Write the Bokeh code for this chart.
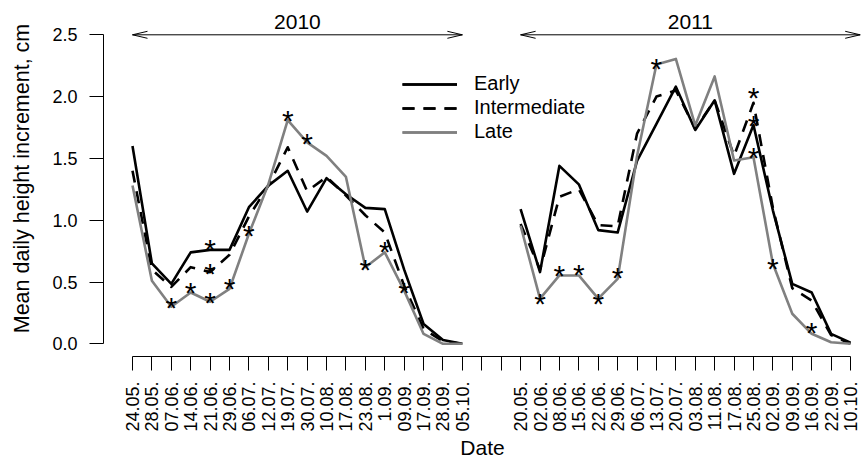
import numpy as np
from bokeh.plotting import figure
from bokeh.models import (Range1d, LinearAxis, FixedTicker, Legend, LegendItem,
                          Label, NumeralTickFormatter)
from bokeh.core.properties import value
from bokeh.embed import file_html
from bokeh.resources import INLINE

# ---------------- data ----------------
dates_2010 = ["24.05.", "28.05.", "07.06.", "14.06.", "21.06.", "29.06.", "06.07.", "12.07.",
              "19.07.", "30.07.", "10.08.", "17.08.", "23.08.", "1.09.", "09.09.", "17.09.",
              "28.09.", "05.10."]
dates_2011 = ["20.05.", "02.06.", "08.06.", "15.06.", "22.06.", "29.06.", "06.07.", "13.07.",
              "20.07.", "03.08.", "11.08.", "17.08.", "25.08.", "02.09.", "09.09.", "16.09.",
              "22.09.", "10.10."]

early_2010 = [1.60, 0.65, 0.485, 0.74, 0.76, 0.76, 1.105, 1.28, 1.40, 1.07, 1.34, 1.21,
              1.10, 1.09, 0.60, 0.16, 0.03, 0.0]
inter_2010 = [1.40, 0.60, 0.46, 0.62, 0.58, 0.72, 1.03, 1.28, 1.59, 1.235, 1.35, 1.20,
              1.04, 0.90, 0.47, 0.12, 0.02, 0.0]
late_2010 = [1.28, 0.51, 0.30, 0.415, 0.34, 0.445, 0.89, 1.29, 1.81, 1.63, 1.52, 1.35,
             0.62, 0.74, 0.43, 0.08, 0.0, 0.0]

early_2011 = [1.09, 0.58, 1.44, 1.29, 0.92, 0.90, 1.48, 1.78, 2.08, 1.73, 1.97, 1.375,
              1.77, 1.08, 0.485, 0.415, 0.08, 0.01]
inter_2011 = [0.97, 0.60, 1.19, 1.25, 0.96, 0.95, 1.70, 2.00, 2.05, 1.74, 1.97, 1.52,
              1.95, 1.10, 0.45, 0.35, 0.07, 0.0]
late_2011 = [0.955, 0.365, 0.553, 0.553, 0.365, 0.526, 1.52, 2.26, 2.305, 1.766, 2.163, 1.483,
             1.51, 0.647, 0.243, 0.081, 0.013, 0.0]

# significance asterisks: index within season, height of the star
stars_2010_idx = [2, 3, 4, 4, 4, 5, 6, 8, 9, 12, 13, 14]
stars_2010_y = [0.337, 0.458, 0.803, 0.607, 0.377, 0.49, 0.917, 1.847, 1.664, 0.639, 0.787, 0.453]
stars_2011_idx = [1, 2, 3, 4, 5, 7, 12, 12, 12, 13, 15]
stars_2011_y = [0.364, 0.593, 0.599, 0.364, 0.58, 2.265, 2.036, 1.807, 1.55, 0.652, 0.134]

y_ticks = [0.0, 0.5, 1.0, 1.5, 2.0, 2.5]
years = ["2010", "2011"]
series_names = ["Early", "Intermediate", "Late"]
GAP = 2  # empty tick positions between the two seasons

# ---------------- positions ----------------
x2010 = list(range(len(dates_2010)))
x2011 = [len(dates_2010) + GAP + i for i in range(len(dates_2011))]
labeled_ticks = x2010 + x2011
gap_ticks = list(range(len(dates_2010), len(dates_2010) + GAP))
tick_labels = {t: lab for t, lab in zip(labeled_ticks, dates_2010 + dates_2011)}

FONT = "Liberation Sans"
GRAY = "#808080"

p = figure(width=861, height=463, output_backend="svg", toolbar_location=None,
           x_range=Range1d(-1.494, 37.567), y_range=Range1d(-0.1027, 2.7775),
           x_axis_type=None, y_axis_type=None,
           min_border_left=103, min_border_right=0, min_border_top=0, min_border_bottom=107)
p.outline_line_color = None
p.background_fill_color = "white"
p.border_fill_color = "white"

# x axis
xaxis = LinearAxis(ticker=FixedTicker(ticks=labeled_ticks, minor_ticks=gap_ticks),
                   major_label_overrides=tick_labels,
                   bounds=(labeled_ticks[0], labeled_ticks[-1]),
                   major_label_orientation=np.pi / 2,
                   axis_label="Date")
xaxis.axis_line_color = "black"
xaxis.axis_line_width = 1
xaxis.major_tick_out = 14
xaxis.major_tick_in = 0
xaxis.minor_tick_out = 14
xaxis.minor_tick_in = 0
xaxis.minor_tick_line_color = "black"
xaxis.major_tick_line_color = "black"
xaxis.major_label_standoff = 11
xaxis.major_label_text_font = FONT
xaxis.major_label_text_font_size = "18px"
xaxis.major_label_text_color = "black"
xaxis.axis_label_text_font = FONT
xaxis.axis_label_text_font_size = "21px"
xaxis.axis_label_text_font_style = "normal"
xaxis.axis_label_text_color = "black"
xaxis.axis_label_standoff = 1
p.add_layout(xaxis, "below")

# y axis
yaxis = LinearAxis(ticker=FixedTicker(ticks=y_ticks, minor_ticks=[]),
                   formatter=NumeralTickFormatter(format="0.0"),
                   bounds=(y_ticks[0], y_ticks[-1]),
                   axis_label="Mean daily height increment, cm")
yaxis.axis_line_color = "black"
yaxis.major_tick_out = 14
yaxis.major_tick_in = 0
yaxis.minor_tick_out = 0
yaxis.minor_tick_in = 0
yaxis.major_label_standoff = 12
yaxis.major_label_text_font = FONT
yaxis.major_label_text_font_size = "18px"
yaxis.major_label_text_color = "black"
yaxis.axis_label_text_font = FONT
yaxis.axis_label_text_font_size = "21.5px"
yaxis.axis_label_text_font_style = "normal"
yaxis.axis_label_text_color = "black"
yaxis.axis_label_standoff = 15
p.add_layout(yaxis, "left")

# lines
styles = {
    "Early": dict(line_color="black", line_dash="solid"),
    "Intermediate": dict(line_color="black", line_dash="12 9"),
    "Late": dict(line_color=GRAY, line_dash="solid"),
}
data = {
    "Early": (early_2010, early_2011),
    "Intermediate": (inter_2010, inter_2011),
    "Late": (late_2010, late_2011),
}
legend_items = []
for name in series_names:
    y10, y11 = data[name]
    r1 = p.line(x2010, y10, line_width=2.6, line_join="round", **styles[name])
    r2 = p.line(x2011, y11, line_width=2.6, line_join="round", **styles[name])
    legend_items.append(LegendItem(label=name, renderers=[r1, r2]))

# asterisks
sx = [x2010[i] for i in stars_2010_idx] + [x2011[i] for i in stars_2011_idx]
sy = stars_2010_y + stars_2011_y
p.text(x=sx, y=sy, text=["*"] * len(sx), text_font=value(FONT), text_font_size="30px",
       text_align="center", text_baseline="alphabetic", y_offset=5, text_color="black")

# year spans with double arrows
YEAR_Y = 2.5
hx = 15 / 19.405
hy = 3.5 / 123.6
spans = [(x2010[0], x2010[-1]), (x2011[0], x2011[-1] + 0.5)]
for (a, b), yr in zip(spans, years):
    p.segment(x0=[a], y0=[YEAR_Y], x1=[b], y1=[YEAR_Y], line_color="black", line_width=1)
    p.segment(x0=[a, a, b, b], y0=[YEAR_Y] * 4,
              x1=[a + hx, a + hx, b - hx, b - hx],
              y1=[YEAR_Y + hy, YEAR_Y - hy, YEAR_Y + hy, YEAR_Y - hy],
              line_color="black", line_width=1)
    p.add_layout(Label(x=(a + b) / 2, y=2.60, text=yr, text_align="center",
                       text_baseline="middle", text_font=FONT, text_font_size="21px",
                       text_color="black"))

legend = Legend(items=legend_items, location=(299, 213), orientation="vertical",
                glyph_width=55, glyph_height=20, label_standoff=17, spacing=1,
                padding=0, margin=0, border_line_color=None, background_fill_alpha=0,
                label_text_font=FONT, label_text_font_size="20px", label_text_color="black")
p.add_layout(legend)

open("out.html", "w").write(file_html(p, INLINE))
